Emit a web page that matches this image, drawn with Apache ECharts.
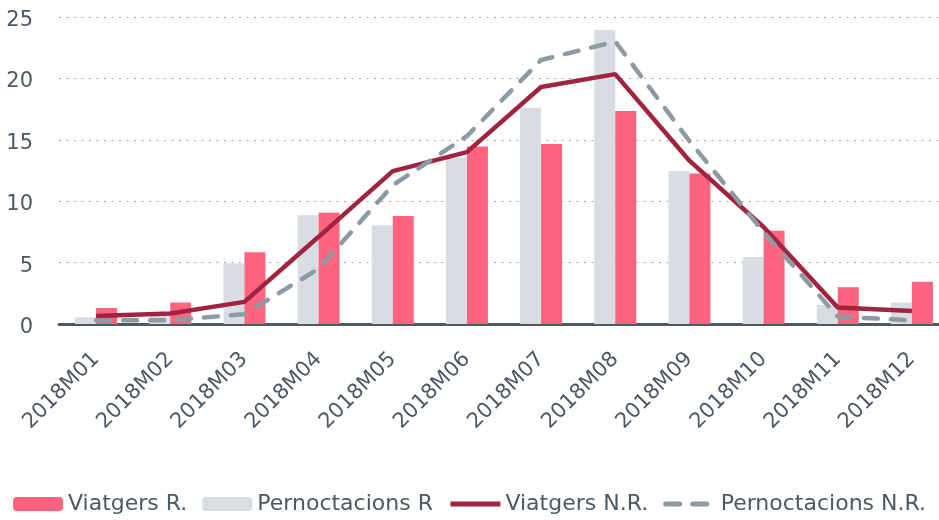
<!DOCTYPE html>
<html>
<head>
<meta charset="utf-8">
<script src="https://cdn.jsdelivr.net/npm/echarts@6/dist/echarts.min.js"></script>
<style>
  html, body { margin: 0; padding: 0; background: #fff; }
  #chart { width: 939px; height: 520px; }
</style>
</head>
<body>
<div id="chart"></div>
<script>
  var months = ['2018M01', '2018M02', '2018M03', '2018M04', '2018M05', '2018M06',
                '2018M07', '2018M08', '2018M09', '2018M10', '2018M11', '2018M12']
  var pernoctR   = [0.55, 0.8, 4.95, 8.85, 8.05, 13.55, 17.6, 23.95, 12.45, 5.45, 1.55, 1.75]
  var viatgersR  = [1.3, 1.75, 5.85, 9.05, 8.8, 14.45, 14.65, 17.35, 12.25, 7.6, 3.0, 3.45]
  var viatgersNR = [0.65, 0.85, 1.8, 7.1, 12.45, 14.0, 19.3, 20.35, 13.3, 7.9, 1.35, 1.05]
  var pernoctNR  = [0.3, 0.3, 0.8, 4.5, 11.3, 15.3, 21.5, 23.0, 14.9, 7.5, 0.6, 0.3]
  var yTicks = [0, 5, 10, 15, 20, 25]

  var textColor = '#4b5966'
  var font = 'DejaVu Sans'

  var chart = echarts.init(document.getElementById('chart'))
  chart.setOption({
    animation: false,
    textStyle: { fontFamily: font, color: textColor },
    legend: {
      left: 'center',
      bottom: 0,
      itemWidth: 50,
      itemHeight: 14,
      itemGap: 15,
      textStyle: { fontSize: 22, color: textColor, fontFamily: font },
      data: [
        'Viatgers R.',
        'Pernoctacions R',
        { name: 'Viatgers N.R.', itemStyle: { opacity: 0 }, lineStyle: { width: 5 } },
        { name: 'Pernoctacions N.R.', itemStyle: { opacity: 0 }, lineStyle: { width: 5 } }
      ]
    },
    grid: { left: 59, width: 890, top: 17, bottom: 196, containLabel: false, outerBoundsMode: 'none' },
    xAxis: {
      type: 'category',
      data: months,
      axisTick: { show: false },
      axisLine: { lineStyle: { color: '#4d5964', width: 3 } },
      axisLabel: { rotate: 45, fontSize: 21, color: textColor, margin: 32, interval: 0 }
    },
    yAxis: {
      type: 'value',
      min: yTicks[0],
      max: yTicks[yTicks.length - 1],
      interval: 5,
      axisLine: { show: false },
      axisTick: { show: false },
      axisLabel: {
        fontSize: 21, color: textColor, margin: 26,
        formatter: function (v) { return '{a|' + v + '}' },
        rich: { a: { fontSize: 21, color: textColor, fontFamily: font, padding: [7, 0, 0, 0] } }
      },
      splitLine: { lineStyle: { color: '#a8a8a8', width: 1.2, type: [2, 5.5] } }
    },
    series: [
      {
        name: 'Pernoctacions R',
        type: 'bar',
        data: pernoctR,
        barWidth: 21,
        barGap: '0%',
        itemStyle: { color: '#d8dde3' }
      },
      {
        name: 'Viatgers R.',
        type: 'bar',
        data: viatgersR,
        barWidth: 21,
        barGap: '0%',
        itemStyle: { color: '#ff647f' }
      },
      {
        name: 'Viatgers N.R.',
        type: 'line',
        data: viatgersNR,
        symbol: 'none',
        itemStyle: { color: '#a0233f' },
        lineStyle: { color: '#a0233f', width: 4.5 }
      },
      {
        name: 'Pernoctacions N.R.',
        type: 'line',
        data: pernoctNR,
        symbol: 'none',
        itemStyle: { color: '#8d9aa3' },
        lineStyle: { color: '#8d9aa3', width: 4.5, type: [14, 13], cap: 'round' }
      }
    ]
  })
</script>
</body>
</html>
